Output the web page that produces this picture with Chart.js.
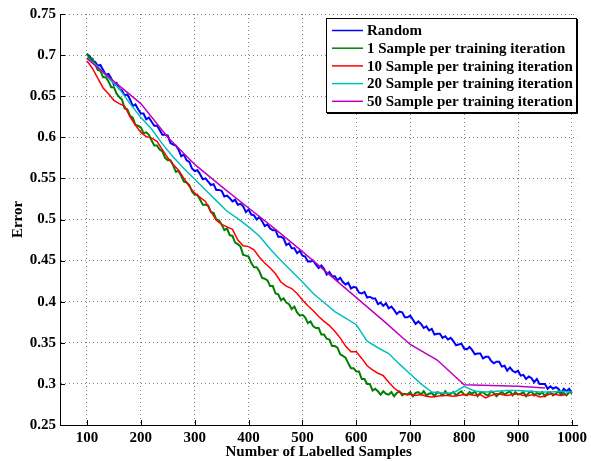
<!DOCTYPE html>
<html>
<head>
<meta charset="utf-8">
<script src="https://cdn.jsdelivr.net/npm/chart.js@4.4.1/dist/chart.umd.min.js"></script>
<style>
  html, body { margin: 0; padding: 0; background: #fff; }
  #chart { display: block; }
</style>
</head>
<body>
<canvas id="chart" width="591" height="461"></canvas>
<script>
const seriesNames = [
    'Random',
    '1 Sample per training iteration',
    '10 Sample per training iteration',
    '20 Sample per training iteration',
    '50 Sample per training iteration',
];
const xTicks = [100, 200, 300, 400, 500, 600, 700, 800, 900, 1000];
const yTicks = [0.25, 0.3, 0.35, 0.4, 0.45, 0.5, 0.55, 0.6, 0.65, 0.7, 0.75];

// Random: one value every 5 samples, 100..1000
const randomError = [
    .701, .699, .692, .692, .687, .688, .682, .676, .677, .672,
    .664, .666, .659, .657, .651, .652, .646, .638, .640, .634,
    .629, .629, .622, .624, .619, .614, .614, .609, .603, .603,
    .602, .593, .591, .590, .585, .577, .579, .572, .570, .562,
    .559, .560, .555, .549, .550, .546, .542, .543, .536, .536,
    .535, .528, .529, .526, .522, .524, .518, .519, .516, .509,
    .512, .506, .505, .500, .503, .498, .492, .494, .489, .487,
    .487, .479, .479, .477, .469, .471, .465, .465, .459, .462,
    .456, .455, .449, .449, .450, .445, .441, .444, .440, .433,
    .436, .431, .431, .426, .429, .424, .421, .423, .416, .418,
    .417, .411, .410, .412, .405, .406, .404, .404, .397, .399,
    .395, .398, .392, .394, .390, .385, .388, .387, .381, .381,
    .383, .378, .373, .376, .373, .368, .370, .365, .367, .360,
    .361, .361, .356, .358, .354, .356, .352, .347, .348, .349,
    .343, .342, .345, .341, .336, .337, .337, .331, .333, .333,
    .328, .325, .327, .327, .321, .322, .316, .320, .316, .314,
    .316, .310, .311, .306, .309, .307, .302, .306, .300, .300,
    .300, .294, .297, .294, .296, .294, .289, .294, .291, .294,
    .289,
];
// 1 sample per iteration: one value every 5 samples, 100..1000
const oneSampleError = [
    .702, .696, .696, .689, .682, .681, .673, .673, .668, .661,
    .661, .653, .649, .646, .635, .634, .626, .624, .615, .614,
    .612, .605, .606, .603, .596, .590, .590, .585, .583, .575,
    .572, .572, .566, .558, .559, .553, .546, .545, .542, .534,
    .530, .530, .524, .518, .518, .517, .509, .508, .500, .499,
    .494, .487, .489, .481, .480, .472, .470, .467, .457, .456,
    .455, .447, .442, .442, .437, .429, .428, .426, .419, .419,
    .410, .409, .402, .404, .399, .397, .391, .394, .387, .383,
    .384, .381, .374, .376, .370, .368, .368, .360, .360, .355,
    .354, .346, .346, .344, .336, .334, .332, .325, .319, .319,
    .315, .315, .306, .306, .300, .300, .292, .294, .291, .287,
    .291, .288, .287, .290, .285, .289, .291, .286, .288, .287,
    .290, .285, .289, .290, .287, .291, .286, .288, .289, .285,
    .290, .289, .286, .291, .287, .288, .290, .286, .289, .291,
    .287, .286, .290, .288, .291, .285, .289, .290, .287, .286,
    .291, .289, .285, .288, .290, .287, .289, .291, .286, .290,
    .287, .288, .290, .285, .289, .291, .286, .289, .287, .290,
    .285, .289, .290, .286, .288, .291, .287, .289, .286, .290,
    .289,
];
// 10 samples per iteration: 100..990 step 10
const tenSampleError = [
    .693, .684, .672, .660, .653, .645, .641, .638, .625, .615,
    .606, .601, .599, .595, .585, .575, .567, .560, .550, .540,
    .532, .527, .522, .510, .499, .494, .491, .488, .475, .468,
    .467, .463, .454, .447, .441, .434, .424, .419, .416, .410,
    .402, .395, .389, .382, .376, .371, .364, .356, .346, .339,
    .339, .331, .322, .317, .313, .310, .302, .295, .290, .287,
    .287, .286, .287, .285, .284, .285, .286, .286, .285, .286,
    .287, .287, .286, .287, .283, .286, .288, .287, .286, .287,
    .288, .286, .286, .287, .284, .285, .288, .287, .286, .287,
];
// 20 samples per iteration: 100..1000 step 20
const twentySampleError = [
    .697, .686, .672, .659, .641, .624, .610, .592, .576, .562,
    .549, .536, .523, .510, .501, .491, .480, .464, .450, .437,
    .424, .410, .399, .388, .380, .372, .352, .344, .337, .324,
    .312, .300, .290, .289, .289, .297, .291, .290, .291, .292,
    .292, .291, .290, .290, .291, .290,
];
// 50 samples per iteration: 100..950 step 50
const fiftySampleError = [
    .696, .668, .641, .600, .567, .540, .514, .488, .461, .433,
    .405, .377, .348, .329, .299, .298, .297, .295,
];

const seriesColors = ['#0000ff', '#008000', '#ff0000', '#00bfbf', '#bf00bf'];

const range = (start, step, count) => Array.from({ length: count }, (_, i) => start + i * step);
const toPoints = (xs, ys) => ys.map((y, i) => ({ x: xs[i], y }));

const seriesPoints = [
    toPoints(range(100, 5, randomError.length), randomError),
    toPoints(range(100, 5, oneSampleError.length), oneSampleError),
    toPoints(range(100, 10, tenSampleError.length), tenSampleError),
    toPoints(range(100, 20, twentySampleError.length), twentySampleError),
    toPoints(range(100, 50, fiftySampleError.length), fiftySampleError),
];

const serif = '"Liberation Serif", "Times New Roman", serif';
const labelFont = { family: serif, size: 15, weight: 'bold' };

// MATLAB-ish inward ticks and boxed legend
const matlabDecor = {
    id: 'matlabDecor',
    afterDraw(chart) {
        const { ctx, chartArea: a, scales: { x, y } } = chart;
        ctx.save();
        ctx.strokeStyle = '#000';
        ctx.lineWidth = 1;
        ctx.beginPath();
        xTicks.forEach((v) => {
            const px = Math.round(x.getPixelForValue(v)) + 0.5;
            ctx.moveTo(px, a.bottom);
            ctx.lineTo(px, a.bottom - 5);
        });
        yTicks.forEach((v) => {
            const py = Math.round(y.getPixelForValue(v)) + 0.5;
            ctx.moveTo(a.left, py);
            ctx.lineTo(a.left + 5, py);
        });
        ctx.stroke();

        const box = { left: 326, top: 18, width: 250, height: 94 };
        ctx.fillStyle = '#fff';
        ctx.fillRect(box.left, box.top, box.width, box.height);
        ctx.strokeRect(box.left + 0.5, box.top + 0.5, box.width, box.height);
        ctx.beginPath();
        ctx.moveTo(box.left + box.width + 1.5, box.top + 1);
        ctx.lineTo(box.left + box.width + 1.5, box.top + box.height + 1.5);
        ctx.lineTo(box.left + 1, box.top + box.height + 1.5);
        ctx.stroke();

        ctx.font = 'bold 15px ' + serif;
        ctx.textBaseline = 'middle';
        ctx.textAlign = 'left';
        chart.data.datasets.forEach((ds, i) => {
            const rowY = 30.5 + i * 17.7;
            ctx.strokeStyle = ds.borderColor;
            ctx.lineWidth = 1.5;
            ctx.beginPath();
            ctx.moveTo(332, rowY);
            ctx.lineTo(363, rowY);
            ctx.stroke();
            ctx.fillStyle = '#000';
            ctx.fillText(ds.label, 367, rowY + 1);
        });
        ctx.restore();
    },
};

new Chart(document.getElementById('chart'), {
    type: 'line',
    data: {
        datasets: seriesNames.map((name, i) => ({
            label: name,
            data: seriesPoints[i],
            borderColor: seriesColors[i],
            backgroundColor: seriesColors[i],
            borderWidth: i < 2 ? 2 : 1.5,
            pointRadius: 0,
            tension: 0,
            fill: false,
            order: seriesNames.length - i,
        })),
    },
    options: {
        responsive: false,
        animation: false,
        devicePixelRatio: 1,
        layout: { padding: { left: 0, right: 10, top: 14, bottom: 0 } },
        plugins: { legend: { display: false }, tooltip: { enabled: false } },
        scales: {
            x: {
                type: 'linear',
                min: 50,
                max: 1010,
                afterBuildTicks: (scale) => { scale.ticks = xTicks.map((value) => ({ value })); },
                afterFit: (scale) => { scale.height = 36; },
                grid: { color: '#7f7f7f', lineWidth: 1, drawTicks: false },
                border: { display: true, color: '#000', width: 1, dash: [1, 3] },
                ticks: { color: '#000', font: labelFont, padding: 4, maxRotation: 0, autoSkip: false, callback: (v) => String(v) },
                title: { display: true, text: 'Number of Labelled Samples', color: '#000', font: labelFont, padding: { top: 0, bottom: 0 } },
            },
            y: {
                type: 'linear',
                min: 0.25,
                max: 0.75,
                afterBuildTicks: (scale) => { scale.ticks = yTicks.map((value) => ({ value })); },
                afterFit: (scale) => { scale.width = 60; },
                grid: { color: '#7f7f7f', lineWidth: 1, drawTicks: false },
                border: { display: true, color: '#000', width: 1, dash: [1, 3] },
                ticks: { color: '#000', font: labelFont, padding: 4, autoSkip: false, callback: (v) => String(+v.toFixed(2)) },
                title: { display: true, text: 'Error', color: '#000', font: labelFont, padding: { top: 9, bottom: 0 } },
            },
        },
    },
    plugins: [matlabDecor],
});
</script>
</body>
</html>
